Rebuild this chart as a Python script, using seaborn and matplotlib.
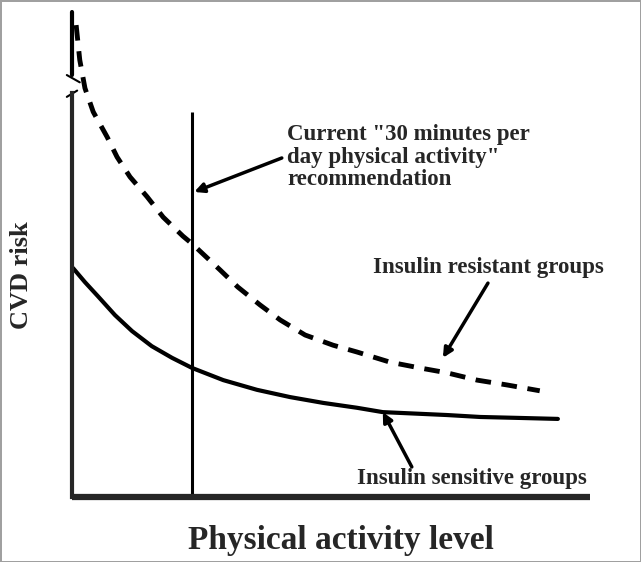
import numpy as np
import pandas as pd
import matplotlib
matplotlib.use('Agg')
import matplotlib.pyplot as plt
import seaborn as sns

# conceptual curves: physical activity level (0-10) vs CVD risk (0-10)
resist_x = [0.08, 0.15, 0.25, 0.41, 0.68, 0.87, 1.12, 1.45, 1.76, 2.14, 2.32, 2.47, 2.86,
            3.20, 3.63, 4.02, 4.50, 5.04, 5.50, 6.14, 6.72, 7.24, 7.82, 8.40, 9.03]
resist_y = [9.73, 9.01, 8.43, 7.94, 7.42, 7.01, 6.60, 6.19, 5.77, 5.38, 5.22, 5.07, 4.68,
            4.33, 3.96, 3.65, 3.34, 3.13, 2.99, 2.78, 2.66, 2.56, 2.41, 2.31, 2.19]

sens_x = [0.02, 0.25, 0.50, 0.83, 1.16, 1.54, 1.93, 2.32, 2.92, 3.57, 4.21, 4.85, 5.50,
          6.00, 7.24, 7.88, 8.65, 9.38]
sens_y = [4.72, 4.43, 4.14, 3.75, 3.42, 3.11, 2.87, 2.66, 2.41, 2.21, 2.06, 1.94, 1.84,
          1.75, 1.69, 1.65, 1.63, 1.61]

rec_x = 2.32      # "30 minutes per day" line
rec_top = 7.94

rec_label = 'Current "30 minutes per\nday physical activity"\nrecommendation'
resist_label = 'Insulin resistant groups'
sens_label = 'Insulin sensitive groups'

sns.set_style('white')
plt.rcParams['font.family'] = ['Liberation Serif', 'DejaVu Serif']

fig = plt.figure(figsize=(6.41, 5.62), dpi=100)
fig.patch.set_edgecolor('#a0a0a0')
fig.patch.set_linewidth(2)
ax = fig.add_axes([72 / 641, 65 / 562, 518 / 641, 485 / 562])

df_r = pd.DataFrame({'x': resist_x, 'y': resist_y})
df_s = pd.DataFrame({'x': sens_x, 'y': sens_y})
sns.lineplot(data=df_r, x='x', y='y', ax=ax, color='black', lw=3.5, sort=False,
             dash_joinstyle='round')
ax.lines[-1].set_dashes((3.2, 2.2))
sns.lineplot(data=df_s, x='x', y='y', ax=ax, color='black', lw=3, sort=False,
             solid_joinstyle='round')

ax.vlines(rec_x, 0, rec_top, color='black', lw=2.2)

ax.set_xlim(0, 10)
ax.set_ylim(0, 10)
ax.set_xticks([])
ax.set_yticks([])
ax.set_xlabel('')
ax.set_ylabel('')
for s in ['top', 'right']:
    ax.spines[s].set_visible(False)
ax.spines['bottom'].set_linewidth(4.5)
ax.spines['bottom'].set_capstyle('butt')
ax.spines['left'].set_linewidth(3)
ax.spines['left'].set_bounds(0, 8.33)
# broken upper part of the y axis
ax.plot([0, 0], [8.70, 10], color='black', lw=3, clip_on=False)
ax.plot([-0.1, 0.15], [8.70, 8.55], color='black', lw=1.5, clip_on=False)
ax.plot([-0.1, 0.1], [8.25, 8.38], color='black', lw=1.5, clip_on=False)

arrow = dict(arrowstyle='-|>', color='black', lw=2.5, mutation_scale=14, shrinkA=0, shrinkB=0)
ax.annotate('', xy=(2.36, 6.29), xytext=(4.05, 6.99), arrowprops=arrow)
ax.annotate('', xy=(7.16, 2.87), xytext=(8.03, 4.41), arrowprops=arrow)
ax.annotate('', xy=(6.00, 1.75), xytext=(6.56, 0.62), arrowprops=arrow)

ax.text(4.15, 7.01, rec_label, fontsize=16.5, fontweight='bold', va='center', ha='left',
        linespacing=1.1)
ax.text(5.81, 4.74, resist_label, fontsize=16.5, fontweight='bold', va='center', ha='left')
ax.text(5.50, 0.39, sens_label, fontsize=16.5, fontweight='bold', va='center', ha='left')

fig.text(22 / 641, 1 - 275 / 562, 'CVD risk', rotation=90, fontsize=19, fontweight='bold',
         ha='center', va='center')
fig.text(341 / 641, 1 - 541 / 562, 'Physical activity level', fontsize=24, fontweight='bold',
         ha='center', va='center')

fig.savefig('out.png', dpi=100, edgecolor=fig.get_edgecolor())
